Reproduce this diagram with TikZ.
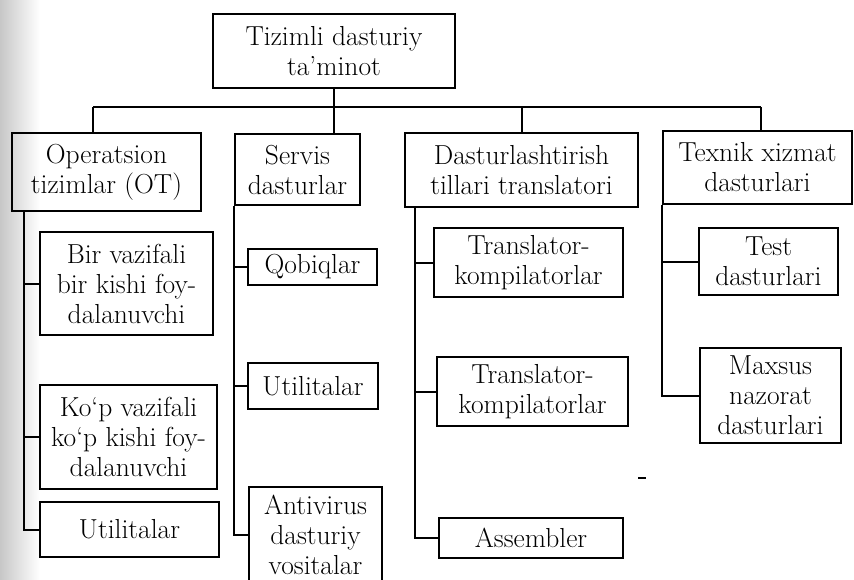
\documentclass[tikz,border=0pt]{standalone}
\usepackage{fontspec}
\begin{document}
\begin{tikzpicture}[x=1pt,y=-1pt,
  box/.style={draw, line width=2pt, inner sep=0pt, align=center,
    font=\fontsize{27.5}{30}\selectfont},
  ln/.style={line width=2pt}]
\useasboundingbox (0,0) rectangle (854,579);
\shade[left color=black!22, right color=white] (0,0) rectangle (40,579);
% top level
\node[box, minimum width=242pt, minimum height=74pt] (top) at (334,51) {Tizimli dasturiy\\ta’minot};
% second level
\node[box, minimum width=189pt, minimum height=78pt] (op) at (106.5,172) {Operatsion\\tizimlar (OT)};
\node[box, minimum width=125pt, minimum height=71pt] (serv) at (297.5,169.5) {Servis\\dasturlar};
\node[box, minimum width=233pt, minimum height=74pt] (dast) at (521.5,170) {Dasturlashtirish\\tillari translatori};
\node[box, minimum width=189pt, minimum height=73pt] (tex) at (757.5,167.5) {Texnik xizmat\\dasturlari};
% OT children
\node[box, minimum width=173pt, minimum height=103pt] (bir) at (126.5,283.5) {Bir vazifali\\bir kishi foy-\\dalanuvchi};
\node[box, minimum width=177pt, minimum height=104pt] (kop) at (128.5,437) {Ko‘p vazifali\\ko‘p kishi foy-\\dalanuvchi};
\node[box, minimum width=179pt, minimum height=55pt] (utilA) at (129.5,529.5) {Utilitalar};
% Servis children
\node[box, minimum width=129pt, minimum height=36pt] (qob) at (312.5,267) {Qobiqlar};
\node[box, minimum width=130pt, minimum height=46pt] (utilB) at (313,386) {Utilitalar};
\node[box, minimum width=133pt, minimum height=95pt] (anti) at (315.5,534.5) {Antivirus\\dasturiy\\vositalar};
% Dasturlash children
\node[box, minimum width=189pt, minimum height=69pt] (tkA) at (528.5,262.5) {Translator-\\kompilatorlar};
\node[box, minimum width=191pt, minimum height=69pt] (tkB) at (532.5,391.5) {Translator-\\kompilatorlar};
\node[box, minimum width=184pt, minimum height=40pt] (asm) at (531,538) {Assembler};
% Texnik children
\node[box, minimum width=139pt, minimum height=67pt] (test) at (768.5,261.5) {Test\\dasturlari};
\node[box, minimum width=141pt, minimum height=95pt] (maxs) at (770.5,395.5) {Maxsus\\nazorat\\dasturlari};
% bus
\coordinate (bL) at (93,107);
\coordinate (bD) at (522,107);
\coordinate (bR) at (761,107);
\draw[ln] (bL) -- (bR);
\draw[ln] (bL) -- (bL |- op.north);
\draw[ln] (top.south) -- (top.south |- serv.north);
\draw[ln] (bD) -- (bD |- dast.north);
\draw[ln] (bR) -- (bR |- tex.north);
% OT spine
\coordinate (sOp) at (24,0);
\draw[ln] (sOp |- op.south) -- (sOp |- utilA.west) -- (utilA.west);
\draw[ln] (sOp |- bir.west) -- (bir.west);
\draw[ln] (sOp |- kop.west) -- (kop.west);
% Servis spine
\draw[ln] (serv.south west) -- (serv.south west |- anti.west) -- (anti.west);
\draw[ln] (serv.south west |- qob.west) -- (qob.west);
\draw[ln] (serv.south west |- utilB.west) -- (utilB.west);
% Dasturlash spine
\coordinate (sD) at (415,0);
\draw[ln] (sD |- dast.south) -- (sD |- asm.west) -- (asm.west);
\draw[ln] (sD |- tkA.west) -- (tkA.west);
\draw[ln] (sD |- tkB.west) -- (tkB.west);
% Texnik spine
\draw[ln] (tex.south west) -- (tex.south west |- maxs.west) -- (maxs.west);
\draw[ln] (tex.south west |- test.west) -- (test.west);
% stray mark
\coordinate (m1) at (638,478);
\coordinate (m2) at (646,478);
\draw[line width=2.5pt] (m1) -- (m2);
\end{tikzpicture}
\end{document}
